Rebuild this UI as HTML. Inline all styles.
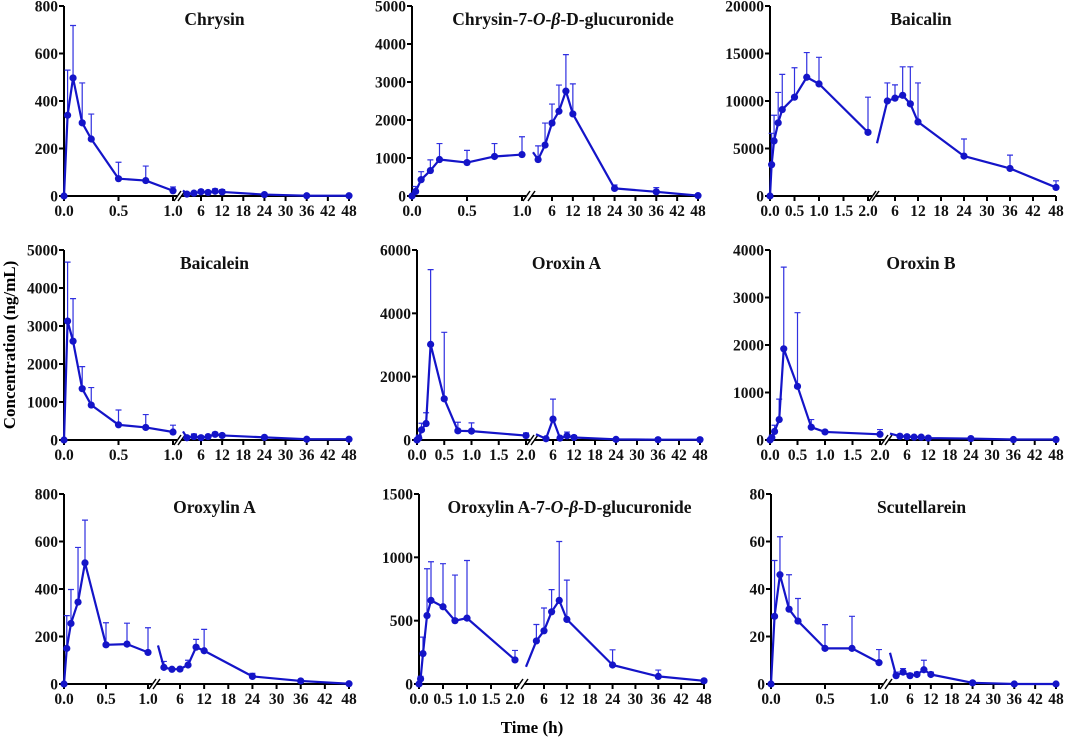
<!DOCTYPE html>
<html><head><meta charset="utf-8"><style>
html,body{margin:0;padding:0;background:#fff;}
svg{display:block;font-family:"Liberation Serif",serif;font-weight:bold;}
</style></head><body>
<svg id="chart" width="1065" height="748" viewBox="0 0 1065 748" xmlns="http://www.w3.org/2000/svg">
<text x="0" y="0" transform="translate(15,345) rotate(-90)" text-anchor="middle" font-size="17">Concentration (ng/mL)</text>
<text x="532" y="733" text-anchor="middle" font-size="17">Time (h)</text>
</svg>
<script>
const tLeft1 = [0,0.033,0.083,0.167,0.25,0.5,0.75,1];
const tLeft2 = [0,0.033,0.083,0.167,0.25,0.5,0.75,1,2];
const tRight1 = [2,4,6,8,10,12,24,36,48];
const tRight2 = [4,6,8,10,12,24,36,48];

const chrysinMeanL = [0,340,497,308,240,73,65,22];
const chrysinSdL = [0,190,221,168,105,69,61,16];
const chrysinMeanR = [8,12,18,15,20,17,6,1,1];
const chrysinSdR = [0,3,7,5,10,10,2,1,1];

const chrysinGluMeanL = [0,120,430,670,960,880,1040,1090];
const chrysinGluSdL = [0,130,210,280,420,320,340,470];
const chrysinGluMeanR = [960,1340,1920,2230,2760,2160,200,110,10];
const chrysinGluSdR = [360,580,500,690,960,790,90,110,10];

const baicalinMeanL = [0,3300,5800,7700,9100,10400,12500,11800,6700];
const baicalinSdL = [0,3300,2700,3200,3700,3100,2600,2800,3700];
const baicalinMeanR = [10000,10300,10600,9700,7800,4200,2900,900];
const baicalinSdR = [1900,1400,3000,3900,4100,1800,1400,700];

const baicaleinMeanL = [0,3130,2600,1350,920,400,330,210];
const baicaleinSdL = [0,1550,1120,580,460,390,340,180];
const baicaleinMeanR = [60,90,60,90,150,120,70,20,20];
const baicaleinSdR = [10,70,20,20,50,40,20,10,10];

const oroxinAMeanL = [0,60,320,520,3020,1300,290,280,140];
const oroxinASdL = [0,90,210,340,2360,2100,270,260,80];
const oroxinAMeanR = [40,660,60,130,80,20,10,10];
const oroxinASdR = [20,630,40,120,60,10,10,10];

const oroxinBMeanL = [0,50,180,430,1920,1130,270,170,120];
const oroxinBSdL = [0,50,130,430,1720,1550,160,30,100];
const oroxinBMeanR = [80,70,60,60,40,30,10,10];
const oroxinBSdR = [20,20,10,10,10,10,5,5];

const oroxylinMeanL = [0,150,255,345,510,165,168,133];
const oroxylinSdL = [0,138,143,230,180,93,88,104];
const oroxylinMeanR = [70,62,63,80,155,140,32,13,1];
const oroxylinSdR = [25,0,0,20,33,90,13,2,0];

const oroxylinGluMeanL = [0,40,240,540,660,610,500,520,190];
const oroxylinGluSdL = [0,20,130,370,305,340,360,455,75];
const oroxylinGluMeanR = [340,420,570,660,510,150,60,25];
const oroxylinGluSdR = [130,180,175,465,310,120,50,10];

const scutMeanL = [0,28.5,46,31.5,26.5,15,15,9];
const scutSdL = [0,23.5,16,14.5,9.5,10,13.5,5.5];
const scutMeanR = [3.5,5,3.5,4,6,4,0.5,0,0];
const scutSdR = [1.5,1.5,1,1,4,1,0.5,0,0];

const rightTicks = [6,12,18,24,30,36,42,48];

const NS = "http://www.w3.org/2000/svg";
const svg = document.getElementById('chart');
const LINE = '#1414c8', ERR = '#3030e0';

function mk(tag, attrs, parent){
  const e = document.createElementNS(NS, tag);
  for (const k in attrs) e.setAttribute(k, attrs[k]);
  (parent||svg).appendChild(e);
  return e;
}

const panels = [
 {name:'chrysin', title:'Chrysin', x0:64,xL:173,lmax:1,x6:201,x48:349,seg:183,yT:6,yB:196,ymax:800,ystep:200,tl:tLeft1,ml:chrysinMeanL,sl:chrysinSdL,tr:tRight1,mr:chrysinMeanR,sr:chrysinSdR},
 {name:'chrysin-glucuronide', title:'glu1', x0:412,xL:522,lmax:1,x6:552,x48:698,seg:533,yT:6,yB:196,ymax:5000,ystep:1000,tl:tLeft1,ml:chrysinGluMeanL,sl:chrysinGluSdL,tr:tRight1,mr:chrysinGluMeanR,sr:chrysinGluSdR},
 {name:'baicalin', title:'Baicalin', x0:770,xL:868,lmax:2,x6:895,x48:1056,seg:877,yT:6,yB:196,ymax:20000,ystep:5000,tl:tLeft2,ml:baicalinMeanL,sl:baicalinSdL,tr:tRight2,mr:baicalinMeanR,sr:baicalinSdR},
 {name:'baicalein', title:'Baicalein', x0:64,xL:173,lmax:1,x6:201,x48:349,seg:183,yT:250,yB:440,ymax:5000,ystep:1000,tl:tLeft1,ml:baicaleinMeanL,sl:baicaleinSdL,tr:tRight1,mr:baicaleinMeanR,sr:baicaleinSdR},
 {name:'oroxin-a', title:'Oroxin A', x0:417,xL:526,lmax:2,x6:553,x48:700,seg:536,yT:250,yB:440,ymax:6000,ystep:2000,tl:tLeft2,ml:oroxinAMeanL,sl:oroxinASdL,tr:tRight2,mr:oroxinAMeanR,sr:oroxinASdR},
 {name:'oroxin-b', title:'Oroxin B', x0:770,xL:880,lmax:2,x6:907,x48:1056,seg:890,yT:250,yB:440,ymax:4000,ystep:1000,tl:tLeft2,ml:oroxinBMeanL,sl:oroxinBSdL,tr:tRight2,mr:oroxinBMeanR,sr:oroxinBSdR},
 {name:'oroxylin-a', title:'Oroxylin A', x0:64,xL:148,lmax:1,x6:180,x48:349,seg:158,yT:494,yB:684,ymax:800,ystep:200,tl:tLeft1,ml:oroxylinMeanL,sl:oroxylinSdL,tr:tRight1,mr:oroxylinMeanR,sr:oroxylinSdR},
 {name:'oroxylin-glucuronide', title:'glu2', x0:419,xL:515,lmax:2,x6:544,x48:704,seg:526,yT:494,yB:684,ymax:1500,ystep:500,tl:tLeft2,ml:oroxylinGluMeanL,sl:oroxylinGluSdL,tr:tRight2,mr:oroxylinGluMeanR,sr:oroxylinGluSdR},
 {name:'scutellarein', title:'Scutellarein', x0:771,xL:879,lmax:1,x6:910,x48:1056,seg:890,yT:494,yB:684,ymax:80,ystep:20,tl:tLeft1,ml:scutMeanL,sl:scutSdL,tr:tRight1,mr:scutMeanR,sr:scutSdR}
];

panels.forEach(p=>{
  const g = mk('g',{});
  
  
  const y = v => p.yB - v/p.ymax*(p.yB-p.yT);
  const xl = t => p.x0 + t/p.lmax*(p.xL-p.x0);
  const k = (p.x48-p.x6)/42;
  const xr = t => p.x6 + (t-6)*k;

  const cx = (p.x0 + p.x48)/2 + 8;
  const tt = mk('text',{x:cx,y:p.yT+19,'text-anchor':'middle','font-size':17.5,fill:'#111'},g);
  
  
  if (p.title==='glu1' || p.title==='glu2'){
    const pre = p.title==='glu1' ? 'Chrysin-7-' : 'Oroxylin A-7-';
    tt.innerHTML = pre + '<tspan font-style="italic">O</tspan>-<tspan font-style="italic">β</tspan>-D-glucuronide';
  } else tt.textContent = p.title;

  mk('line',{x1:p.x0,y1:p.yT,x2:p.x0,y2:p.yB+1,stroke:'#000','stroke-width':2},g);
  for (let v=0; v<=p.ymax+1e-9; v+=p.ystep){
    mk('line',{x1:p.x0-5,y1:y(v),x2:p.x0,y2:y(v),stroke:'#000','stroke-width':2},g);
    const lb = mk('text',{x:p.x0-6,y:y(v)+5.5,'text-anchor':'end','font-size':15.5,fill:'#111'},g);
    
    
    lb.textContent = v;
  }
  mk('line',{x1:p.x0,y1:p.yB,x2:p.xL+4,y2:p.yB,stroke:'#000','stroke-width':2},g);
  mk('line',{x1:p.xL+1,y1:p.yB+5,x2:p.xL+8,y2:p.yB-5,stroke:'#000','stroke-width':1.5},g);
  mk('line',{x1:p.seg-5,y1:p.yB+5,x2:p.seg+2,y2:p.yB-5,stroke:'#000','stroke-width':1.5},g);
  mk('line',{x1:p.seg-2,y1:p.yB,x2:p.x48,y2:p.yB,stroke:'#000','stroke-width':2},g);
  for (let t=0; t<=p.lmax+1e-9; t+=0.5){
    mk('line',{x1:xl(t),y1:p.yB,x2:xl(t),y2:p.yB+5,stroke:'#000','stroke-width':2},g);
    const lb = mk('text',{x:xl(t),y:p.yB+20,'text-anchor':'middle','font-size':15.5,fill:'#111'},g);
    
    
    lb.textContent = t.toFixed(1);
  }
  rightTicks.forEach(t=>{
    mk('line',{x1:xr(t),y1:p.yB,x2:xr(t),y2:p.yB+5,stroke:'#000','stroke-width':2},g);
    const lb = mk('text',{x:xr(t),y:p.yB+20,'text-anchor':'middle','font-size':15.5,fill:'#111'},g);
    
    
    lb.textContent = t;
  });

  function err(px, m, s){
    if (s<=0) return;
    const e = mk('path',{d:`M${px},${y(m)}V${y(m+s)}M${px-3},${y(m+s)}H${px+3}`,stroke:ERR,'stroke-width':1.2,fill:'none'},g);
    
    
  }
  p.tl.forEach((t,i)=>err(xl(t),p.ml[i],p.sl[i]));
  p.tr.forEach((t,i)=>err(xr(t),p.mr[i],p.sr[i]));

  const lp = p.tl.map((t,i)=>`${xl(t)},${y(p.ml[i])}`).join(' ');
  const l1 = mk('polyline',{points:lp,fill:'none',stroke:LINE,'stroke-width':2.2,'stroke-linejoin':'round'},g);
  
  
  const tLast = p.tl[p.tl.length-1], mLast = p.ml[p.ml.length-1];
  const t0 = p.tr[0], m0 = p.mr[0];
  const xa = xr(tLast), xb = xr(t0);
  if (p.seg < xb){
    const f = (p.seg - xa)/(xb - xa);
    const ms = mLast + f*(m0-mLast);
    mk('line',{x1:p.seg,y1:y(ms),x2:xb,y2:y(m0),stroke:LINE,'stroke-width':2.2},g);
  }
  const rp = p.tr.map((t,i)=>`${xr(t)},${y(p.mr[i])}`).join(' ');
  const l2 = mk('polyline',{points:rp,fill:'none',stroke:LINE,'stroke-width':2.2,'stroke-linejoin':'round'},g);
  
  

  p.tl.forEach((t,i)=>{
    const c = mk('circle',{cx:xl(t),cy:y(p.ml[i]),r:3.6,fill:LINE},g);
    
    
  });
  p.tr.forEach((t,i)=>{
    const c = mk('circle',{cx:xr(t),cy:y(p.mr[i]),r:3.6,fill:LINE},g);
    
    
  });
});
</script>
</body></html>
